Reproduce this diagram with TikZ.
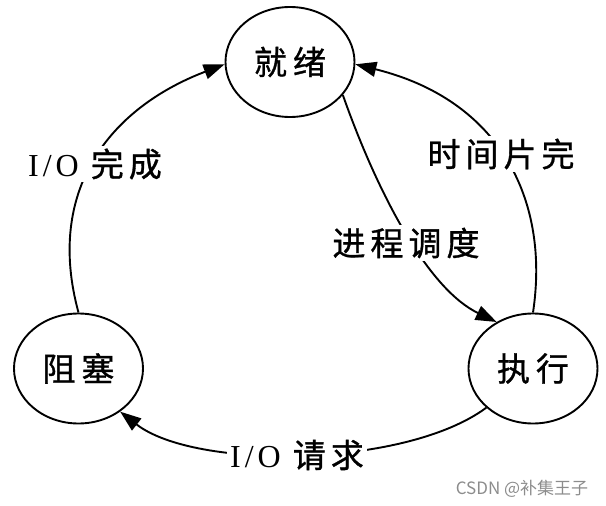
\documentclass[tikz,border=0pt]{standalone}
\usepackage{fontspec}
\setmainfont{Liberation Serif}
\newfontfamily\cjk[FakeBold=1]{Noto Sans CJK SC}
\newfontfamily\cjkwm{Noto Sans CJK SC}
\usetikzlibrary{shapes.geometric,arrows.meta}
\tikzset{
  state/.style={ellipse, draw, line width=1.9pt, minimum width=129pt, minimum height=110pt, inner sep=0pt, font=\cjk\fontsize{33}{36}\selectfont},
  lbl/.style={fill=white, inner sep=3pt, font=\cjk\fontsize{33}{36}\selectfont},
  conn/.style={line width=1.9pt, -{Triangle[length=21pt,width=15pt]}},
  wm/.style={text=black!45, inner sep=0pt, font=\cjkwm\fontsize{17}{19}\selectfont}
}
\newcommand{\lat}[1]{{\rmfamily\fontsize{32}{34}\selectfont #1}}
\begin{document}
\begin{tikzpicture}[x=1pt,y=-1pt]
\useasboundingbox (0,0) rectangle (606,506);
\node[state] (jiuxu) at (290,62) {就\kern6pt 绪};
\node[state] (zuse) at (78.5,368.5) {阻\kern6pt 塞};
\node[state] (zhixing) at (533,368.5) {执\kern6pt 行};
% I/O complete
\draw[conn] (zuse.north) .. controls (45,190) and (110,108) .. (jiuxu.182);
\node[lbl] (l1) at (95,164) {\lat{I\kern4pt/\kern4pt O}\kern12pt 完\kern5pt 成};
% time slice
\draw[conn] (zhixing.north) .. controls (550,200) and (500,100) .. (jiuxu.-2);
\node[lbl] (l2) at (501,154) {时\kern5pt 间\kern5pt 片\kern5pt 完};
% dispatch
\draw[conn] (jiuxu.-32) .. controls (380,200) and (430,290) .. (zhixing.128);
\node[lbl] (l3) at (406,243) {进\kern5pt 程\kern5pt 调\kern5pt 度};
% I/O request
\draw[conn] (zhixing.220) .. controls (405,468) and (195,470) .. (zuse.-46);
\node[lbl] (l4) at (297,455) {\lat{I\kern4pt/\kern4pt O}\kern12pt 请\kern5pt 求};
% watermark
\node[wm] (wmk) at (522,489) {CSDN @补集王子};
\end{tikzpicture}
\end{document}
